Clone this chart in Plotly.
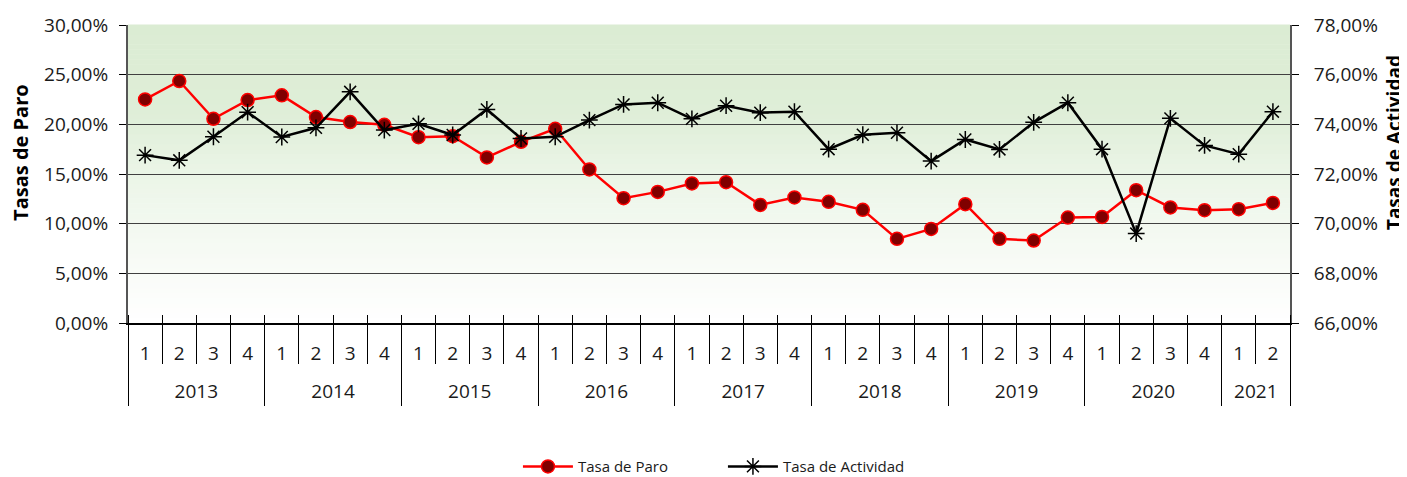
import plotly.graph_objects as go

# ---------------- data ----------------
years = ["2013", "2014", "2015", "2016", "2017", "2018", "2019", "2020", "2021"]
quarters_per_year = [4, 4, 4, 4, 4, 4, 4, 4, 2]
quarter_names = ["1", "2", "3", "4"]

tasa_paro = [22.51, 24.36, 20.56, 22.44, 22.92, 20.73, 20.23, 19.95,
             18.71, 18.81, 16.67, 18.24, 19.55, 15.46, 12.57, 13.20,
             14.05, 14.18, 11.89, 12.64, 12.20, 11.39, 8.47, 9.47,
             11.96, 8.47, 8.30, 10.62, 10.68, 13.37, 11.63, 11.36,
             11.46, 12.09]
tasa_actividad = [72.76, 72.55, 73.50, 74.49, 73.49, 73.86, 75.31, 73.77,
                  74.02, 73.57, 74.60, 73.43, 73.50, 74.17, 74.80, 74.87,
                  74.22, 74.75, 74.47, 74.51, 73.00, 73.58, 73.66, 72.52,
                  73.39, 72.99, 74.08, 74.87, 73.00, 69.60, 74.24, 73.15,
                  72.80, 74.51]

# ---------------- derived category geometry ----------------
quarter_labels = []
for n in quarters_per_year:
    quarter_labels += quarter_names[:n]
n_cat = len(quarter_labels)
x_pos = [i + 0.5 for i in range(n_cat)]
boundaries = list(range(n_cat + 1))
year_bounds = [0]
for n in quarters_per_year:
    year_bounds.append(year_bounds[-1] + n)
year_centers = [(year_bounds[i] + year_bounds[i + 1]) / 2 for i in range(len(years))]

FONT = "Open Sans"
TXT = "#1a1a1a"
TICK = 19

fig = go.Figure()
fig.add_trace(go.Scatter(
    x=x_pos, y=[v / 100 for v in tasa_paro], name="Tasa de Paro",
    mode="lines+markers", xaxis="x", yaxis="y",
    line=dict(color="#ff0000", width=2.5),
    marker=dict(symbol="circle", size=13, color="#800000",
                line=dict(color="#ff0000", width=1.5)),
))
fig.add_trace(go.Scatter(
    x=x_pos, y=[v / 100 for v in tasa_actividad], name="Tasa de Actividad",
    mode="lines+markers", xaxis="x", yaxis="y2",
    line=dict(color="#000000", width=2.5),
    marker=dict(symbol="asterisk-open", size=14,
                line=dict(color="#000000", width=1.5)),
))
# empty helper traces so that the overlaid category-divider axes get drawn
for ax in ["x2", "x3", "x4"]:
    fig.add_trace(go.Scatter(x=[None], y=[None], xaxis=ax, yaxis="y",
                             showlegend=False, hoverinfo="skip", mode="lines"))

# gradient background bands (decoration)
top = (219, 236, 211)
stops = [(0.0, (255, 255, 255)), (0.25, (246, 250, 244)), (0.5, (235, 245, 231)),
         (0.7, (223, 238, 216)), (1.0, top)]
def col(t):
    for (a, ca), (b, cb) in zip(stops[:-1], stops[1:]):
        if a <= t <= b:
            f = (t - a) / (b - a)
            return "rgb(%d,%d,%d)" % tuple(round(ca[k] + (cb[k] - ca[k]) * f) for k in range(3))
    return "rgb(%d,%d,%d)" % top
NB = 60
shapes = []
for i in range(NB):
    y0 = i / NB
    y1 = (i + 1) / NB
    shapes.append(dict(type="rect", xref="paper", yref="paper", x0=0, x1=1,
                       y0=y0, y1=y1 + 0.002, fillcolor=col((y0 + y1) / 2),
                       line=dict(width=0), layer="below"))

# the page body adds an 8px margin, so the figure is 8px smaller and shifted
fig.update_layout(
    width=1399, height=469,
    margin=dict(l=120, r=117, t=17, b=154, autoexpand=False),
    paper_bgcolor="white", plot_bgcolor="white",
    separators=",.",
    font=dict(family=FONT, size=TICK, color=TXT),
    shapes=shapes,
    showlegend=True,
    legend=dict(orientation="h", x=0.512, xanchor="center", y=-0.482, yanchor="middle",
                font=dict(size=15, color=TXT), itemwidth=50, entrywidth=140,
                bgcolor="rgba(0,0,0,0)"),
    xaxis=dict(range=[0, n_cat], tickmode="array", tickvals=x_pos, ticktext=quarter_labels,
               ticks="", showgrid=False, zeroline=False, showline=True,
               linecolor="#000000", linewidth=1.5,
               minor=dict(tickmode="array", tickvals=boundaries, ticks="inside",
                          ticklen=8, tickcolor="#000000", tickwidth=1, showgrid=False),
               tickfont=dict(size=TICK, color=TXT), ticklabelstandoff=12),
    xaxis2=dict(range=[0, n_cat], overlaying="x", anchor="y", side="bottom",
                tickmode="array", tickvals=boundaries, ticks="outside", ticklen=40,
                tickcolor="#000000", tickwidth=1, showticklabels=False,
                showgrid=False, zeroline=False, showline=False),
    xaxis3=dict(range=[0, n_cat], overlaying="x", anchor="y", side="bottom",
                tickmode="array", tickvals=year_centers, ticktext=years, ticks="",
                showgrid=False, zeroline=False, showline=False,
                tickfont=dict(size=TICK, color=TXT), ticklabelstandoff=55),
    xaxis4=dict(range=[0, n_cat], overlaying="x", anchor="y", side="bottom",
                tickmode="array", tickvals=year_bounds, ticks="outside", ticklen=82,
                tickcolor="#000000", tickwidth=1, showticklabels=False,
                showgrid=False, zeroline=False, showline=False),
    yaxis=dict(range=[0, 0.30], dtick=0.05, tickformat=".2%", showgrid=True,
               gridcolor="#404040", gridwidth=1, zeroline=False, showline=True,
               linecolor="#555555", linewidth=2, ticks="outside", ticklen=7,
               tickcolor="#000000", tickfont=dict(size=TICK, color=TXT),
               ticklabelstandoff=7),
    yaxis2=dict(range=[0.66, 0.78], dtick=0.02, tickformat=".2%", overlaying="y",
                side="right", showgrid=False, zeroline=False, showline=True,
                linecolor="#555555", linewidth=2, ticks="outside", ticklen=7,
                tickcolor="#000000", tickfont=dict(size=TICK, color=TXT),
                ticklabelstandoff=11),
    annotations=[
        dict(text="<b>Tasas de Paro</b>", textangle=-90, xref="paper", yref="paper",
             x=-0.0921, y=0.574, xanchor="center", yanchor="middle", showarrow=False,
             font=dict(size=20, color="#000000")),
        dict(text="<b>Tasas de Actividad</b>", textangle=-90, xref="paper", yref="paper",
             x=1.0895, y=0.607, xanchor="center", yanchor="middle", showarrow=False,
             font=dict(size=19, color="#000000")),
    ],
)

fig.write_html("out.html")
